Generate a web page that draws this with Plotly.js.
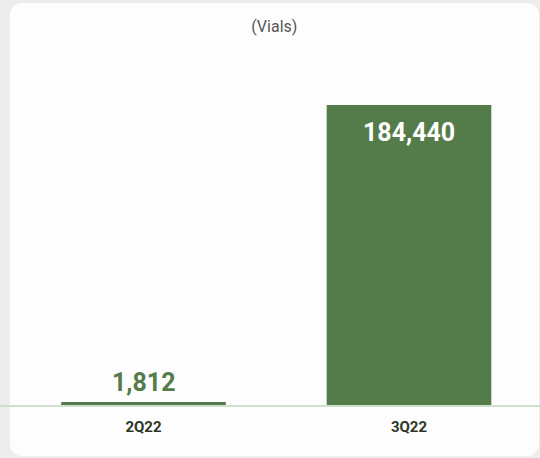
<!DOCTYPE html>
<html>
<head>
<meta charset="utf-8">
<script src="https://cdn.plot.ly/plotly-3.0.1.min.js"></script>
<style>
  html, body { margin: 0; padding: 0; width: 540px; height: 458px; background: #ededed; overflow: hidden; }
  #card { position: absolute; left: 10px; top: 3px; width: 529px; height: 453px; background: #fdfdfd; border-radius: 12px; }
  #chart { position: absolute; left: 0; top: 0; width: 540px; height: 458px; }
</style>
</head>
<body>
<div id="card"></div>
<div id="chart"></div>
<script>
const categories = ["2Q22", "3Q22"];
const vials = [1812, 184440];
const valueLabels = ["1,812", "184,440"];

const barColor = "#547b4a";

const annotations = categories.map((c, i) => {
  const inside = vials[i] > 50000;
  return {
    x: c, y: vials[i], xref: "x", yref: "y",
    text: "<b>" + valueLabels[i] + "</b>",
    showarrow: false,
    yanchor: inside ? "top" : "bottom",
    yshift: inside ? -11 : 3,
    font: { family: "Roboto, sans-serif", size: 25, color: inside ? "#ffffff" : barColor }
  };
});

const trace = {
  type: "bar",
  x: categories,
  y: vials,
  marker: { color: barColor },
  width: 0.62,
  hoverinfo: "skip"
};

const layout = {
  width: 540, height: 458,
  margin: { l: 0, r: 0, t: 60, b: 53 },
  paper_bgcolor: "rgba(0,0,0,0)",
  plot_bgcolor: "rgba(0,0,0,0)",
  showlegend: false,
  title: {
    text: "(Vials)",
    font: { family: "Roboto, sans-serif", size: 16, color: "#555555" },
    x: 0.508, xanchor: "center", y: 0.943, yanchor: "middle", yref: "container"
  },
  xaxis: {
    type: "category",
    range: [-0.5405, 1.4934],
    showline: true, linecolor: "#cfe0cc", linewidth: 2,
    showgrid: false, zeroline: false, ticks: "",
    tickfont: { family: "Roboto, sans-serif", size: 15, color: "#2e3628", weight: "bold" },
    ticklabelstandoff: 7
  },
  yaxis: {
    range: [0, 212106],
    visible: false, showgrid: false, zeroline: false
  },
  annotations: annotations
};

Plotly.newPlot("chart", [trace], layout, { displayModeBar: false, staticPlot: true });
</script>
</body>
</html>
